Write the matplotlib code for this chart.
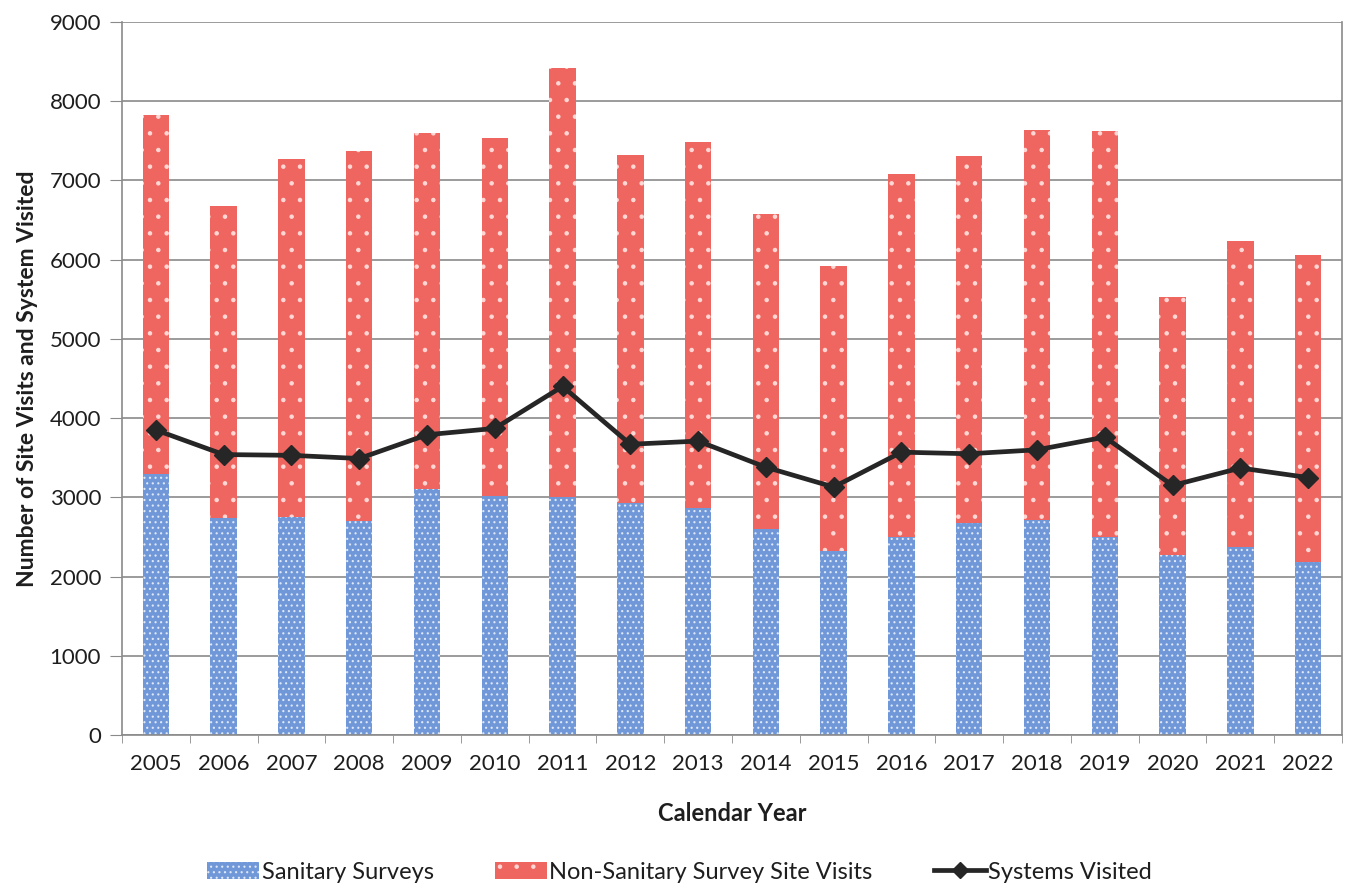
import matplotlib
matplotlib.use("Agg")
import matplotlib.pyplot as plt
import matplotlib.patches as mpatches
from matplotlib.lines import Line2D
import numpy as np

# yearly counts
years = ["2005", "2006", "2007", "2008", "2009", "2010", "2011", "2012", "2013",
         "2014", "2015", "2016", "2017", "2018", "2019", "2020", "2021", "2022"]
sanitary_surveys = [3300, 2740, 2750, 2700, 3100, 3020, 3000, 2930, 2860,
                    2600, 2320, 2500, 2670, 2710, 2500, 2270, 2370, 2190]
total_site_visits = [7820, 6680, 7270, 7370, 7600, 7530, 8420, 7320, 7480,
                     6580, 5920, 7080, 7310, 7640, 7620, 5530, 6240, 6060]
systems_visited = [3850, 3540, 3530, 3490, 3790, 3870, 4400, 3670, 3710,
                   3380, 3130, 3570, 3550, 3600, 3760, 3150, 3370, 3250]

non_sanitary = [t - s for t, s in zip(total_site_visits, sanitary_surveys)]

blue = "#7098d8"
red = "#ef6660"
line_col = "#262626"
grid_col = "#8a8a8a"
text_col = "#1e1e1e"

plt.rcParams["font.family"] = ["Lato", "DejaVu Sans"]
plt.rcParams["hatch.linewidth"] = 0.8
plt.rcParams["text.color"] = text_col
plt.rcParams["xtick.labelcolor"] = text_col
plt.rcParams["ytick.labelcolor"] = text_col
plt.rcParams["axes.labelcolor"] = text_col

fig = plt.figure(figsize=(13.46, 8.88), dpi=100)
ax = fig.add_axes([122 / 1346, 1 - 735 / 888, 1220 / 1346, 713 / 888])

x = np.arange(len(years))
w = 0.39
ax.bar(x, sanitary_surveys, w, color=blue, edgecolor="#dfe8f7", linewidth=0,
       hatch="...", zorder=2)
ax.bar(x, non_sanitary, w, bottom=sanitary_surveys, color=red, edgecolor="#ffd8d6",
       linewidth=0, hatch=".", zorder=2)
ax.plot(x, systems_visited, color=line_col, lw=3.4, marker="D", markersize=10,
        zorder=4)

ax.set_xlim(-0.5, len(years) - 0.5)
ax.set_ylim(0, 9000)
ax.set_yticks(np.arange(0, 9001, 1000))
ax.set_xticks(x)
ax.set_xticklabels(years)
ax.set_xticks(np.arange(-0.5, len(years), 1), minor=True)
ax.tick_params(axis="x", which="major", length=0, pad=14, labelsize=16)
ax.tick_params(axis="x", which="minor", length=6, color=grid_col)
ax.tick_params(axis="y", length=9, color=grid_col, labelsize=16, pad=6)
ax.yaxis.grid(True, color=grid_col, lw=1.2, zorder=0)
ax.set_axisbelow(True)
for side in ["left", "bottom", "right"]:
    ax.spines[side].set_color(grid_col)
    ax.spines[side].set_linewidth(1.2)
ax.spines["top"].set_visible(False)

ax.set_ylabel("Number of Site Visits and System Visited", fontsize=16.5,
              fontweight="bold", labelpad=8)
ax.set_xlabel("Calendar Year", fontsize=17, fontweight="bold", labelpad=20)

handles = [
    mpatches.Patch(facecolor=blue, edgecolor="#dfe8f7", linewidth=0, hatch="..."),
    mpatches.Patch(facecolor=red, edgecolor="#ffd8d6", linewidth=0, hatch="."),
    Line2D([0], [0], color=line_col, lw=3.4, marker="D", markersize=8),
]
labels = ["Sanitary Surveys", "Non-Sanitary Survey Site Visits", "Systems Visited"]
fig.legend(handles, labels, loc="center", bbox_to_anchor=(0.505, 0.018), ncol=3,
           frameon=False, fontsize=17, handlelength=2.2, handletextpad=0.1,
           columnspacing=2.6)

fig.savefig("out.png", dpi=100, facecolor="white")
